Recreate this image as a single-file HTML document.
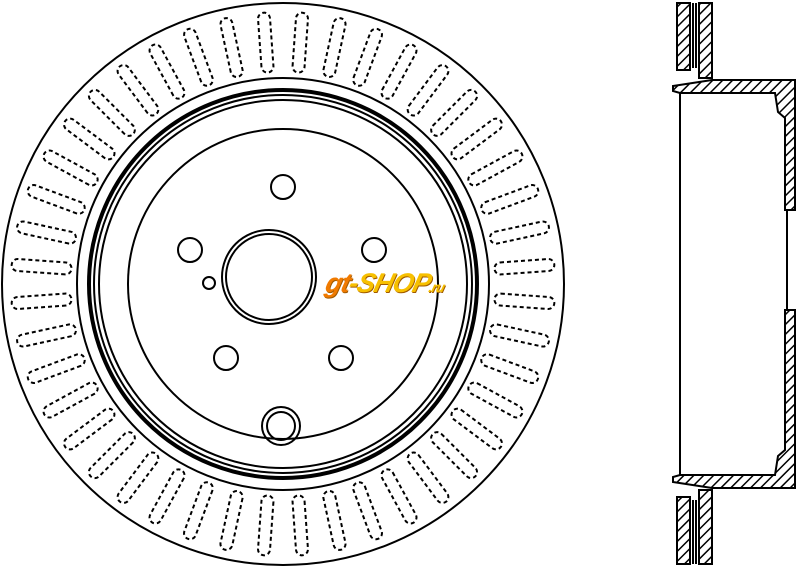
<!DOCTYPE html>
<html><head><meta charset="utf-8"><style>
html,body{margin:0;padding:0;background:#fff;width:800px;height:568px;overflow:hidden}
svg{position:absolute;left:0;top:0}
.logo{position:absolute;left:326px;top:268px;font:italic 900 27px "Liberation Sans",sans-serif;color:#f7c000;letter-spacing:-1px;transform:skewX(-14deg);text-shadow:1px 1px 0 #a05a00;white-space:nowrap}
.logo span{color:#f07a00}
.logo small{font-size:14px}
</style></head><body>
<svg id="s" width="800" height="568" viewBox="0 0 800 568">
<defs><pattern id="h" width="7" height="7" patternUnits="userSpaceOnUse" patternTransform="rotate(45)"><rect width="7" height="7" fill="#fff"/><line x1="0" y1="0" x2="0" y2="7" stroke="#000" stroke-width="3"/></pattern></defs>
<g fill="none" stroke="#000" stroke-width="2">
<circle cx="283" cy="284" r="281"/>
<circle cx="283" cy="284" r="206"/>
<circle cx="283" cy="284" r="194" stroke-width="4"/>
<circle cx="283" cy="284" r="189"/>
<circle cx="283" cy="284" r="184"/>
<circle cx="283" cy="284" r="155"/>
<circle cx="269" cy="277" r="47"/>
<circle cx="269" cy="277" r="43"/>
<circle cx="283" cy="187" r="12"/>
<circle cx="190" cy="250" r="12"/>
<circle cx="374" cy="250" r="12"/>
<circle cx="226" cy="358" r="12"/>
<circle cx="341" cy="358" r="12"/>
<circle cx="209" cy="283" r="6"/>
<circle cx="281" cy="426" r="19"/>
<circle cx="281" cy="426" r="14"/>
<g id="v" stroke-dasharray="4 3" stroke-width="2"></g>
</g>
<g stroke="#000" stroke-width="2" fill="url(#h)">
<rect x="677" y="3" width="13" height="67"/>
<rect x="699" y="3" width="13" height="75"/>
<rect x="677" y="497" width="13" height="67"/>
<rect x="699" y="490" width="13" height="74"/>
<path d="M673 86 L712 80 L795 80 L795 210 L785 210 L785 118 L778 112 L775 93 L680 93 L673 91 Z"/>
<path d="M673 482 L712 488 L795 488 L795 310 L785 310 L785 450 L778 456 L775 475 L680 475 L673 477 Z"/>
</g>
<g stroke="#000" stroke-width="2" fill="none">
<line x1="680" y1="93" x2="680" y2="475"/>
<line x1="693" y1="3" x2="693" y2="68"/><line x1="696" y1="3" x2="696" y2="68"/>
<line x1="693" y1="500" x2="693" y2="564"/><line x1="696" y1="500" x2="696" y2="564"/>
<line x1="787" y1="210" x2="787" y2="310"/>
</g>
</svg>
<div class="logo"><span>gt</span>-SHOP<small>.ru</small></div>
<script>
var g=document.getElementById('v'),cx=283,cy=284,n=44,s='';
for(var i=0;i<n;i++){var a=(i+0.5)/n*360;
s+='<rect x="212" y="-6" width="60" height="12" rx="6" transform="translate('+cx+' '+cy+') rotate('+a+')"/>';}
g.innerHTML=s;
</script>
</body></html>
